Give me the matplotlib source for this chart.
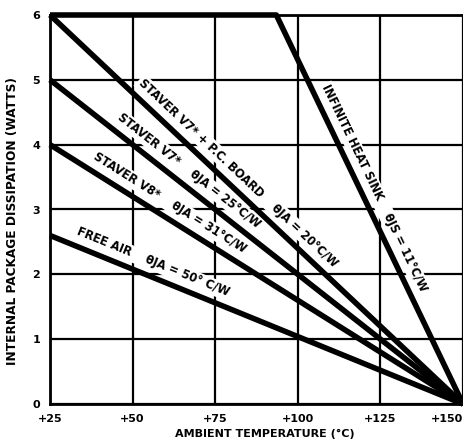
import matplotlib
matplotlib.use('Agg')
import matplotlib.pyplot as plt
import numpy as np

# ---- data ----
lin_t = [25, 150]
v7_pcb_w = [6.0, 0.0]
v7_w = [5.0, 0.0]
v8_w = [4.0, 0.0]
free_air_w = [2.6, 0.0]
inf_t = [25, 93.5, 150]
inf_w = [6.0, 6.0, 0.0]

xticks = [25, 50, 75, 100, 125, 150]
xtick_labels = ['+25', '+50', '+75', '+100', '+125', '+150']
yticks = [0, 1, 2, 3, 4, 5, 6]
ytick_labels = ['0', '1', '2', '3', '4', '5', '6']

labels = [
    # (xs, ys, position along line (°C), text, perpendicular offset px)
    (lin_t, v7_pcb_w, 79.0, 'STAVER V7* + P.C. BOARD    θJA = 20°C/W', 14),
    (lin_t, v7_w, 64.3, 'STAVER V7*    θJA = 25°C/W', 14),
    (lin_t, v8_w, 58.9, 'STAVER V8*    θJA = 31°C/W', 14),
    (lin_t, free_air_w, 54.5, 'FREE AIR    θJA = 50° C/W', 14),
    (inf_t[1:], inf_w[1:], 119.5, 'INFINITE HEAT SINK    θJS = 11°C/W', 13),
]

plt.rcParams['font.family'] = ['DejaVu Sans']

fig = plt.figure(figsize=(4.64, 4.44), dpi=100)
ax = fig.add_axes([50 / 464, 1 - 404 / 444, 413 / 464, 389 / 444])
ax.set_xlim(25, 150)
ax.set_ylim(0, 6)

ax.set_xticks(xticks)
ax.set_xticklabels(xtick_labels, fontsize=8, fontweight='bold')
ax.set_yticks(yticks)
ax.set_yticklabels(ytick_labels, fontsize=8, fontweight='bold')
ax.tick_params(length=0, pad=7)
last = ax.get_xticklabels()[-1]
last.set_horizontalalignment('right')
ax.grid(True, color='black', linewidth=1.6, zorder=0)
ax.set_axisbelow(True)
for s in ax.spines.values():
    s.set_linewidth(2)
    s.set_color('black')

lw = 4
for ys in (v7_pcb_w, v7_w, v8_w, free_air_w):
    ax.plot(lin_t, ys, color='black', linewidth=lw, solid_capstyle='butt', zorder=5, clip_on=False)
ax.plot(inf_t, inf_w, color='black', linewidth=lw, solid_capstyle='butt', zorder=5, clip_on=False)

for xs, ys, t, txt, perp in labels:
    p = ax.transData.transform(np.column_stack([xs[:2], ys[:2]]))
    dx, dy = p[1] - p[0]
    a = np.arctan2(dy, dx)
    nx, ny = -np.sin(a), np.cos(a)
    y = np.interp(t, xs, ys)
    ax.annotate(txt, xy=(t, y), xytext=(perp * nx, perp * ny), textcoords='offset pixels',
                rotation=np.degrees(a), rotation_mode='anchor', ha='center', va='center',
                fontsize=8.3, fontweight='bold', zorder=3,
                bbox=dict(boxstyle='square,pad=0.15', fc='white', ec='none'))

ax.set_xlabel('AMBIENT TEMPERATURE (°C)', fontsize=8, fontweight='bold', labelpad=2)
ax.xaxis.set_label_coords(0.52, -25 / 389)
ax.set_ylabel('INTERNAL PACKAGE DISSIPATION (WATTS)', fontsize=8.7, fontweight='bold')
ax.yaxis.set_label_coords(-31 / 413, 0.47)

fig.savefig('out.png', dpi=100)
